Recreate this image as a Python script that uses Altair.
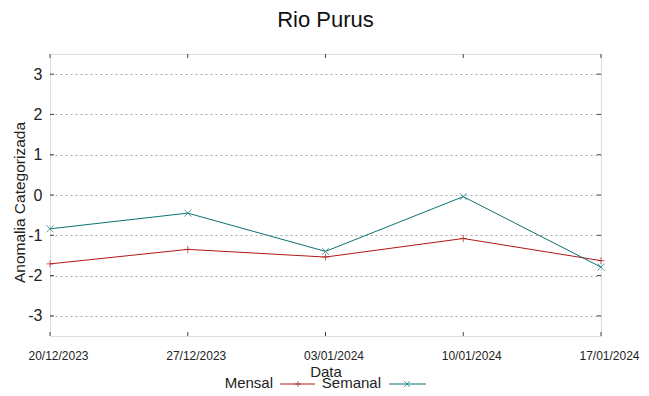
import altair as alt
import pandas as pd

dates = ["20/12/2023", "27/12/2023", "03/01/2024", "10/01/2024", "17/01/2024"]
mensal = [-1.71, -1.35, -1.54, -1.08, -1.63]
semanal = [-0.84, -0.45, -1.40, -0.04, -1.79]
yticks = [-3, -2, -1, 0, 1, 2, 3]
title_text = "Rio Purus"

series_names = ["Mensal", "Semanal"]
series_colors = ["#b01818", "#0b7373"]
series_shapes = ["M-1,0L1,0M0,-1L0,1", "M-1,-1L1,1M-1,1L1,-1"]

FONT = "Liberation Sans"
W, H = 551, 282

df = pd.DataFrame({
    "date": dates * 2,
    "value": mensal + semanal,
    "serie": ["Mensal"] * len(dates) + ["Semanal"] * len(dates),
})
tick_df = pd.DataFrame({"v": yticks})
xtick_df = pd.DataFrame({"date": dates})

xenc = alt.X(
    "date:O", sort=dates,
    scale=alt.Scale(type="point", padding=0, domain=dates),
    axis=alt.Axis(title="Data", grid=False, domain=False, ticks=False,
                  labelAngle=0, labelFont=FONT, labelFontSize=12,
                  labelColor="#222", labelPadding=14, labelOffset=8,
                  titleFont=FONT, titleFontSize=15, titleFontWeight="normal",
                  titleColor="#222", titleY=35, titleBaseline="middle"),
)
yscale = alt.Scale(domain=[-3.5, 3.5], nice=False, zero=False)
yenc = alt.Y(
    "value:Q", scale=yscale,
    axis=alt.Axis(title="Anomalia Categorizada", values=yticks,
                  labelExpr="'' + datum.value",
                  grid=True, gridDash=[2, 3], gridColor="#a8a8a8", gridWidth=1,
                  domain=False, ticks=False, labelFont=FONT, labelFontSize=16,
                  labelColor="#222", labelPadding=8,
                  titleFont=FONT, titleFontSize=15.5, titleFontWeight="normal",
                  titleColor="#222", titleX=-31, titleY=148,
                  titleBaseline="middle", titleAlign="center"),
)

color = alt.Color("serie:N", scale=alt.Scale(domain=series_names, range=series_colors), legend=None)
shape = alt.Shape("serie:N", scale=alt.Scale(domain=series_names, range=series_shapes), legend=None)

lines = alt.Chart(df).mark_line(strokeWidth=1, clip=False).encode(x=xenc, y=yenc, color=color)
points = alt.Chart(df).mark_point(size=49, filled=False, strokeWidth=1).encode(
    x=alt.X("date:O", sort=dates), y="value:Q", color=color, shape=shape)

tick_style = dict(color="#444", strokeWidth=1)
ytl = alt.Chart(tick_df).mark_rule(**tick_style).encode(
    y=alt.Y("v:Q", scale=yscale), x=alt.value(0), x2=alt.value(4))
ytr = alt.Chart(tick_df).mark_rule(**tick_style).encode(
    y=alt.Y("v:Q", scale=yscale), x=alt.value(W - 4), x2=alt.value(W))
xtb = alt.Chart(xtick_df).mark_rule(**tick_style).encode(
    x=alt.X("date:O", sort=dates), y=alt.value(H), y2=alt.value(H - 4))
xtt = alt.Chart(xtick_df).mark_rule(**tick_style).encode(
    x=alt.X("date:O", sort=dates), y=alt.value(0), y2=alt.value(4))

title = alt.Chart(pd.DataFrame({"t": [title_text]})).mark_text(
    align="center", baseline="alphabetic", font=FONT, fontSize=22, color="#111"
).encode(text="t:N", x=alt.value(W / 2), y=alt.value(-27))

# legend (below the plot, gnuplot style: label then sample)
legend_layers = []
text_x = [223, 331]
line_x = [(230, 265), (339, 376)]
mark_x = [248, 357]
ly = 330
for i, name in enumerate(series_names):
    ldf = pd.DataFrame({"label": [name]})
    legend_layers.append(
        alt.Chart(ldf).mark_text(align="right", baseline="middle", font=FONT,
                                 fontSize=15, color="#222").encode(
            text="label:N", x=alt.value(text_x[i]), y=alt.value(ly - 1)))
    legend_layers.append(
        alt.Chart(ldf).mark_rule(color=series_colors[i], strokeWidth=1).encode(
            x=alt.value(line_x[i][0]), x2=alt.value(line_x[i][1]), y=alt.value(ly)))
    legend_layers.append(
        alt.Chart(ldf).mark_point(shape=series_shapes[i], size=36, filled=False,
                                  color=series_colors[i], strokeWidth=1).encode(
            x=alt.value(mark_x[i]), y=alt.value(ly)))

chart = alt.layer(lines, points, ytl, ytr, xtb, xtt, title, *legend_layers).properties(
    width=W, height=H,
    autosize=alt.AutoSizeParams(type="none"),
    padding={"left": 42, "top": 46, "right": 40, "bottom": 52},
).configure_view(stroke="#5c5c5c", strokeWidth=1.2).configure(background="white")

chart.save("out.html", embed_options={"renderer": "svg", "actions": False})
